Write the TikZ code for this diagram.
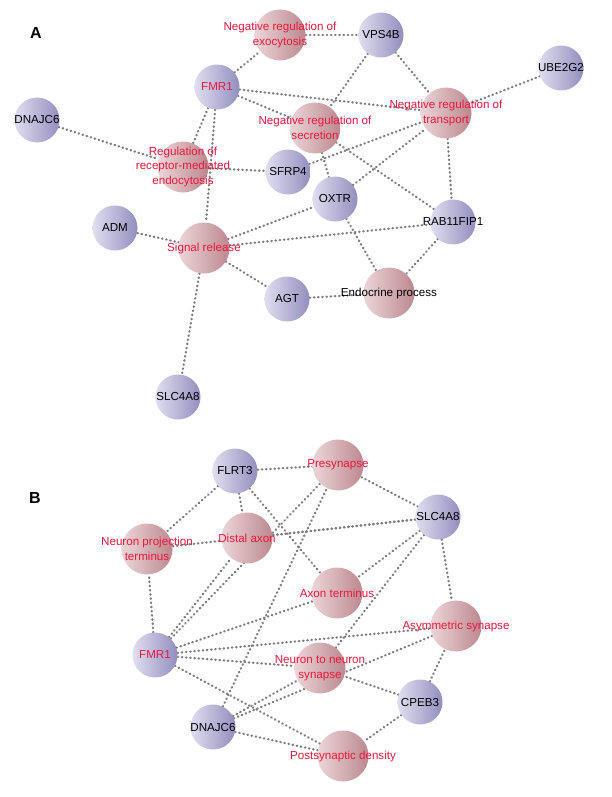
\documentclass[tikz,border=0pt]{standalone}
\usepackage{fontspec}
\setmainfont{Liberation Sans}
\usetikzlibrary{backgrounds}
\definecolor{gL}{RGB}{224,222,240}
\definecolor{gR}{RGB}{146,142,190}
\definecolor{tL}{RGB}{236,214,216}
\definecolor{tR}{RGB}{188,136,142}
\definecolor{tred}{RGB}{236,22,62}
\definecolor{edgec}{RGB}{126,126,126}
\tikzset{
  gene/.style={circle,minimum size=45pt,inner sep=0pt,left color=gL,right color=gR,draw=none},
  term/.style={circle,minimum size=51pt,inner sep=0pt,left color=tL,right color=tR,draw=none},
  btxt/.style={text=black,align=center,font=\fontsize{11.6}{14.5}\selectfont,inner sep=0pt},
  rtxt/.style={text=tred,align=center,font=\fontsize{11.6}{14.5}\selectfont,inner sep=0pt},
  lnk/.style={draw=edgec,line width=2.3pt,line cap=round,dash pattern=on 0.5pt off 3.7pt},
  panel/.style={font=\fontsize{16}{18}\selectfont\bfseries,text=black,inner sep=0pt}
}
\begin{document}
\begin{tikzpicture}[x=1pt,y=-1pt]
\useasboundingbox (0,0) rectangle (612,797);
\node[panel] (la) at (36,33) {A};
\node[panel] (lb) at (35,498) {B};
% ---- Panel A nodes
\node[term,label={[rtxt]center:Negative regulation of\\exocytosis}] (nrexo) at (280,35) {};
\node[gene,label={[btxt]center:VPS4B}] (vps4b) at (381,35) {};
\node[gene,label={[btxt]center:UBE2G2}] (ube2g2) at (561,68) {};
\node[gene,label={[rtxt]center:FMR1}] (fmrA) at (217,87) {};
\node[gene,label={[btxt]center:DNAJC6}] (dnajA) at (37,120) {};
\node[term,label={[rtxt]center:Negative regulation of\\secretion}] (nrsec) at (315,128) {};
\node[term,label={[rtxt]center:Negative regulation of\\transport}] (nrtr) at (446,113) {};
\node[term,label={[rtxt]center:Regulation of\\receptor-mediated\\endocytosis}] (rrme) at (183,167) {};
\node[gene,label={[btxt]center:SFRP4}] (sfrp4) at (288,172) {};
\node[gene,label={[btxt]center:OXTR}] (oxtr) at (335,199) {};
\node[gene,label={[btxt]center:RAB11FIP1}] (rab) at (453,222) {};
\node[gene,label={[btxt]center:ADM}] (adm) at (115,228) {};
\node[term,label={[rtxt]center:Signal release}] (sr) at (204,248) {};
\node[gene,label={[btxt]center:AGT}] (agt) at (287,299) {};
\node[term,label={[btxt]center:Endocrine process}] (endo) at (389,293) {};
\node[gene,label={[btxt]center:SLC4A8}] (slcA) at (178,397) {};
% ---- Panel B nodes
\node[gene,label={[btxt]center:FLRT3}] (flrt3) at (235,471) {};
\node[term,label={[rtxt]center:Presynapse}] (pres) at (338,465) {};
\node[gene,label={[btxt]center:SLC4A8}] (slcB) at (438,517) {};
\node[term,label={[rtxt]center:Neuron projection\\terminus}] (npt) at (147,549) {};
\node[term,label={[rtxt]center:Distal axon}] (dax) at (247,538) {};
\node[term,label={[rtxt]center:Axon terminus}] (axt) at (337,593) {};
\node[term,label={[rtxt]center:Asymmetric synapse}] (asym) at (456,626) {};
\node[gene,label={[rtxt]center:FMR1}] (fmrB) at (155,655) {};
\node[term,label={[rtxt]center:Neuron to neuron\\synapse}] (nton) at (320,668) {};
\node[gene,label={[btxt]center:CPEB3}] (cpeb3) at (420,702) {};
\node[gene,label={[btxt]center:DNAJC6}] (dnajB) at (213,727) {};
\node[term,label={[rtxt]center:Postsynaptic density}] (psd) at (343,756) {};
\begin{pgfonlayer}{background}
\fill[white] (0,0) rectangle (612,797);
% Panel A edges
\foreach \a/\b in {fmrA/nrexo,nrexo/vps4b,vps4b/nrsec,vps4b/nrtr,fmrA/nrtr,fmrA/nrsec,
  ube2g2/nrtr,dnajA/rrme,fmrA/rrme,fmrA/sr,rrme/sfrp4,sfrp4/nrtr,nrsec/oxtr,oxtr/nrtr,
  nrsec/rab,nrtr/rab,sr/oxtr,sr/rab,sr/adm,sr/agt,sr/slcA,oxtr/endo,rab/endo,agt/endo}
  \draw[lnk] (\a) -- (\b);
% Panel B edges
\foreach \a/\b in {flrt3/pres,flrt3/npt,flrt3/dax,flrt3/axt,
  slcB/pres,slcB/npt,slcB/dax,slcB/axt,slcB/nton,slcB/asym,
  fmrB/npt,fmrB/dax,fmrB/pres,fmrB/axt,fmrB/asym,fmrB/nton,fmrB/psd,
  dnajB/pres,dnajB/nton,dnajB/asym,dnajB/psd,
  cpeb3/asym,cpeb3/nton,cpeb3/psd}
  \draw[lnk] (\a) -- (\b);
\end{pgfonlayer}
\end{tikzpicture}
\end{document}
